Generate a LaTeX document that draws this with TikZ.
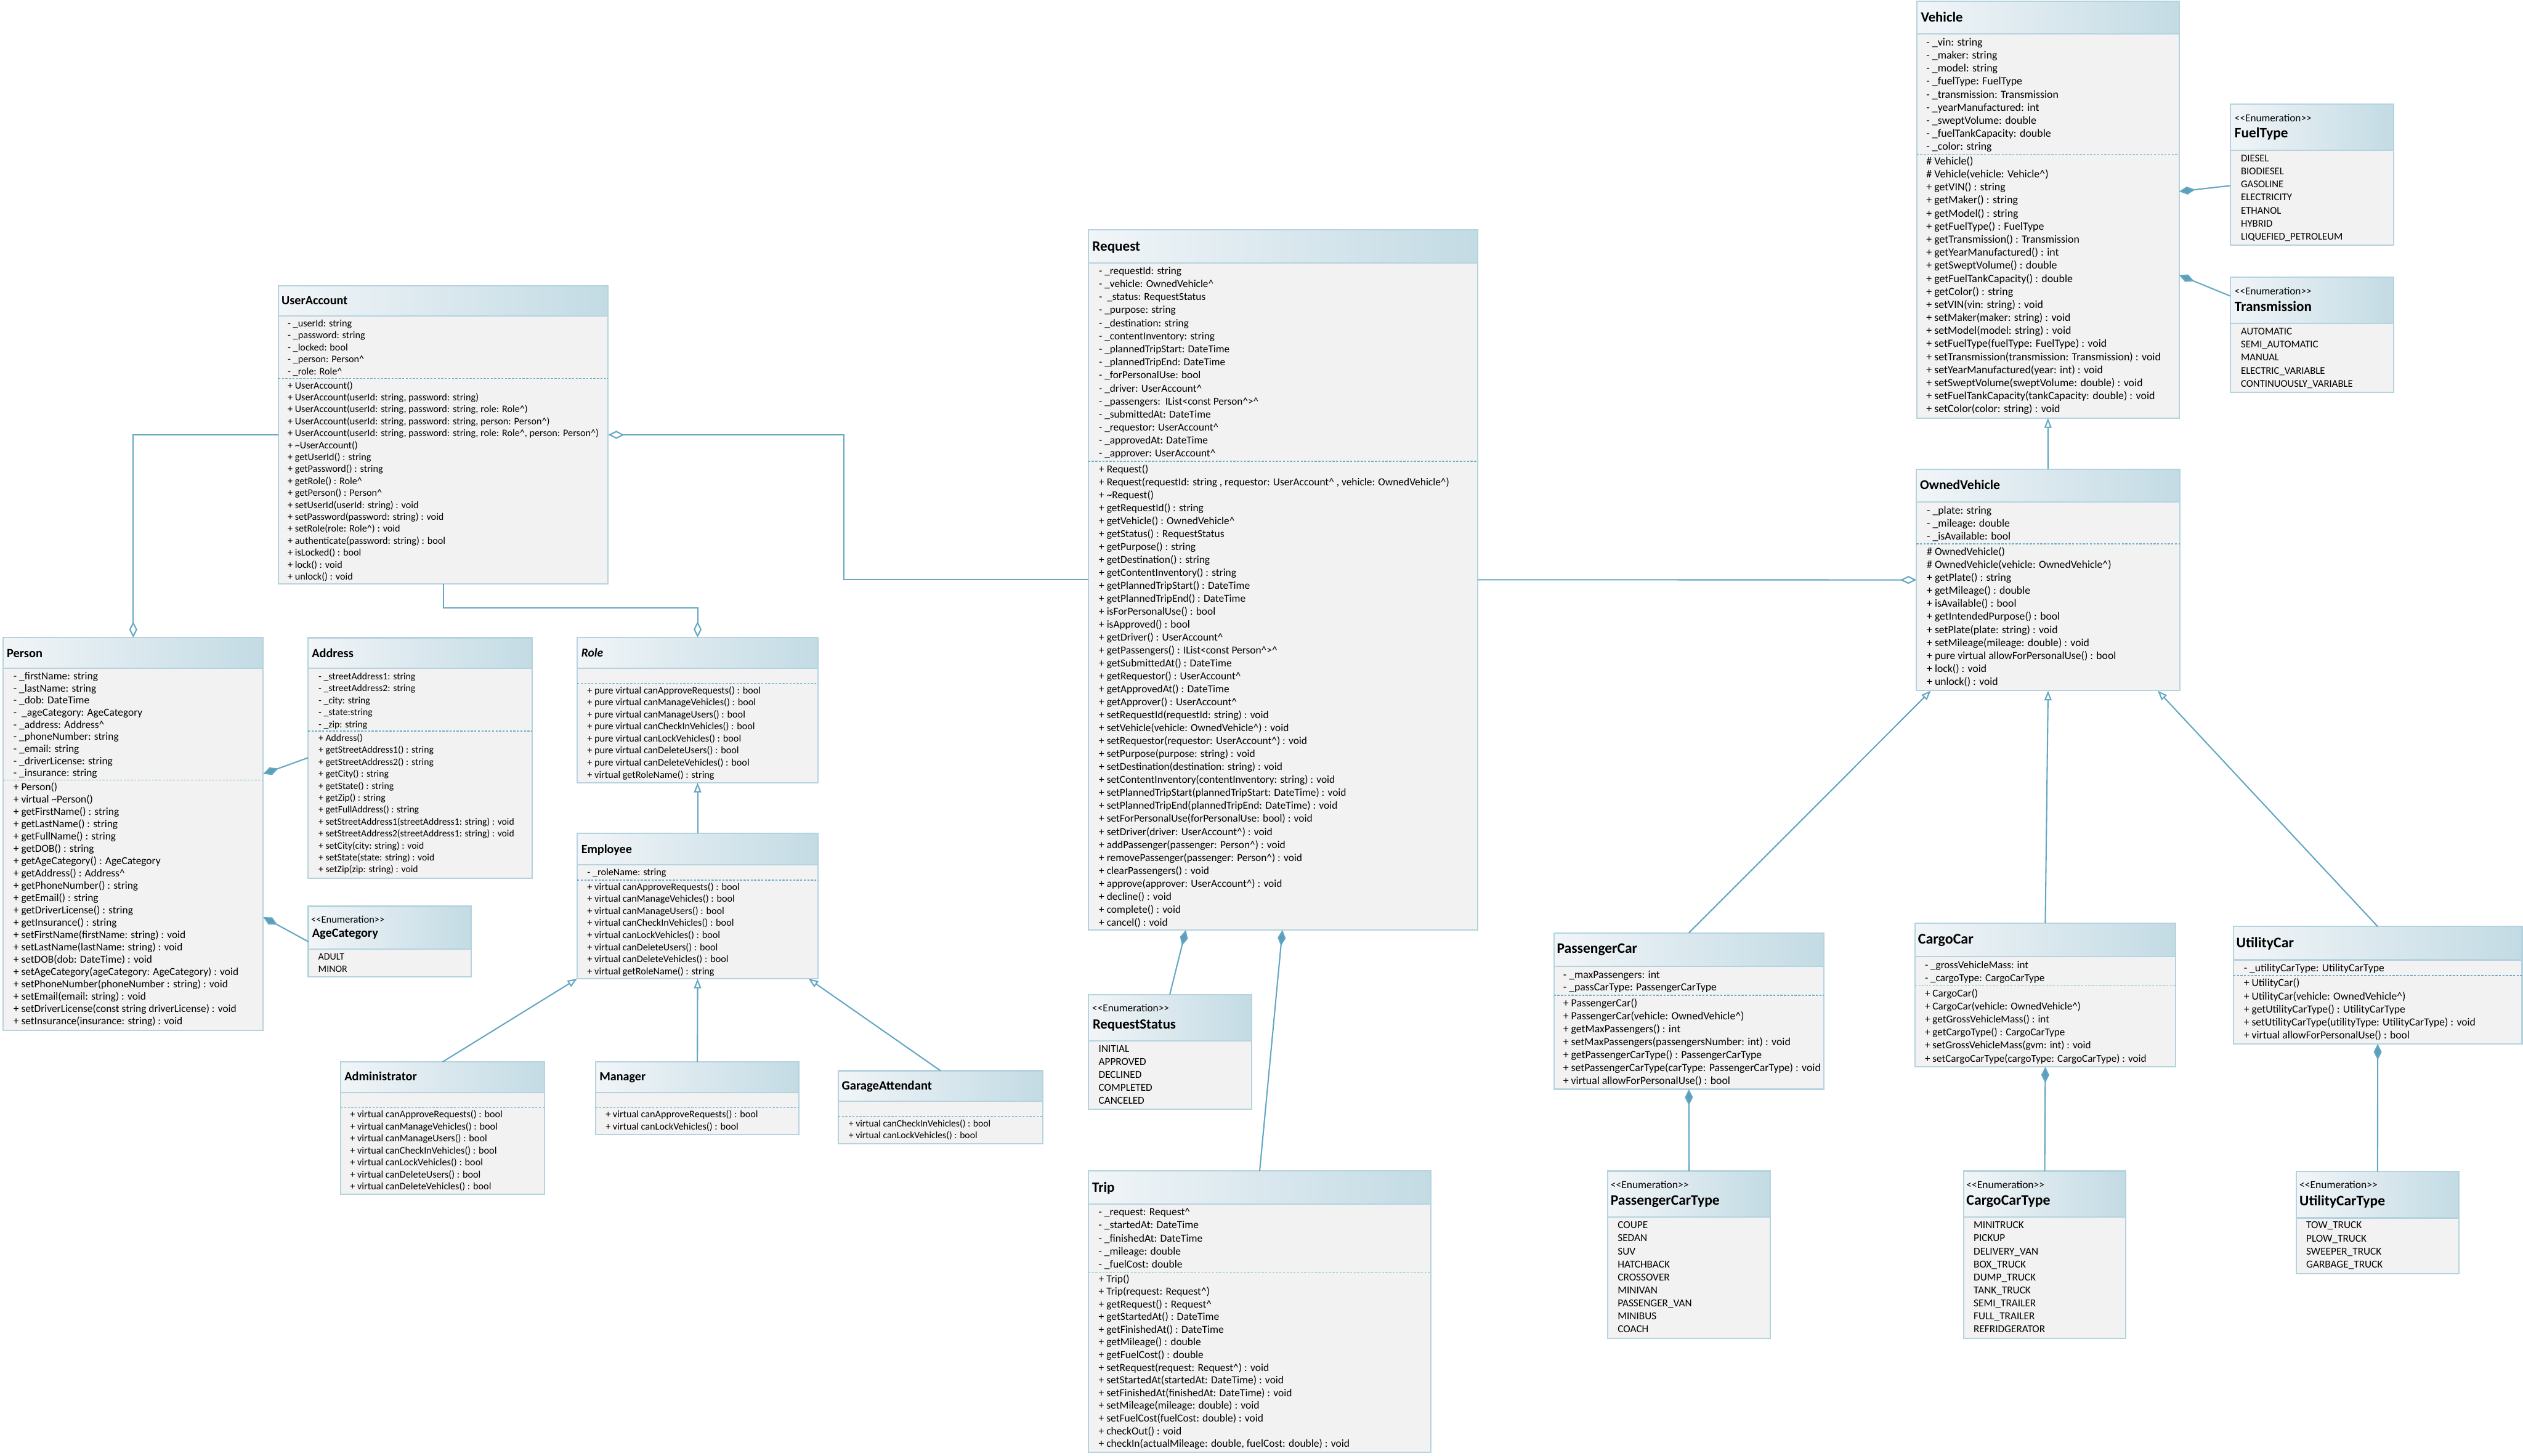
\documentclass[tikz,border=0pt]{standalone}
\usepackage{fontspec}
\setmainfont{Carlito}
\usetikzlibrary{arrows.meta}
\definecolor{hdrL}{HTML}{F1F5F8}
\definecolor{hdrR}{HTML}{C3DBE4}
\definecolor{bodyc}{HTML}{F2F2F2}
\definecolor{bordc}{HTML}{B5D3DF}
\definecolor{connc}{HTML}{64A7C3}
\definecolor{sepc}{HTML}{6AADC9}
\definecolor{diac}{HTML}{5AA0BA}
\tikzset{
 cls/.style={draw=bordc, line width=0.8pt, fill=bodyc, inner sep=0pt, outer sep=0pt, anchor=north west},
 txt/.style={anchor=base west, inner sep=0pt, outer sep=0pt, text=black},
 conn/.style={draw=connc, line width=0.8pt},
 sepl/.style={draw=sepc, line width=0.55pt, dash pattern=on 1.3pt off 0.9pt},
 compo/.style={conn, arrows={Diamond[fill=diac,length=10pt,width=5pt]-}},
 aggr/.style={conn, arrows={-Diamond[fill=white,length=10pt,width=5pt]}},
 inh/.style={conn, arrows={-Triangle[fill=white,length=6pt,width=4.5pt]}},
}
\newcommand\umlclass[6]{%
  \node[cls, minimum width={#4-#2}, minimum height={#5-#3}] (#1) at (#2,#3) {};
  \shade[left color=hdrL, right color=hdrR] (#1.north west) rectangle (#1.east |- 0,#6);
  \draw[bordc, line width=0.8pt] (#1.west |- 0,#6) -- (#1.east |- 0,#6);
  \draw[bordc, line width=0.8pt] (#1.north west) rectangle (#1.south east);
}
\newcommand\utitle[5]{\node[txt, font=\bfseries\fontsize{#4}{#4}\selectfont] (#1-title) at (#2,#3) {#5};}
\newcommand\ustereo[4]{\node[txt, font=\fontsize{#4}{#4}\selectfont] (#1-stereo) at (#2,#3) {<\kern0pt<Enumeration>\kern0pt>};}
\newcommand\usep[2]{\draw[sepl] (#1.west |- 0,#2) -- (#1.east |- 0,#2);}
\newcommand\tlines[6]{%
  \foreach \t [count=\i from 0] in {#6} {
    \node[txt, font=\fontsize{#5}{#5}\selectfont] (#1-\i) at (#2,{#3+\i*#4+0.3*#5}) {\t};
  }}
\begin{document}
\catcode`\_=12
\catcode`\^=12
\begin{tikzpicture}[x=1pt,y=-1pt]
\fill[white] (0,0) rectangle (1568,904.8);
\useasboundingbox (0,0) rectangle (1568,904.8);

% ---------- boxes ----------
\umlclass{ua}{173}{177.5}{378}{363}{196.5}
\umlclass{per}{2}{396.3}{163.6}{640.4}{415.4}
\umlclass{adr}{191.4}{396.4}{330.8}{545.8}{415.4}
\umlclass{role}{358.7}{396.2}{508.4}{486.5}{415.3}
\umlclass{emp}{358.7}{518}{508.4}{608.3}{537.3}
\umlclass{adm}{211.7}{660}{338.4}{742.4}{679.2}
\umlclass{mgr}{370.2}{660}{496.6}{705.3}{679.2}
\umlclass{ga}{521}{665.5}{648}{710.7}{684.6}
\umlclass{age}{191.6}{563.3}{292.9}{607.2}{590}
\umlclass{req}{676.3}{142.7}{918.3}{578}{163.3}
\umlclass{rs}{676.3}{618.1}{777.7}{689.6}{647}
\umlclass{trip}{676.3}{727.8}{889.4}{902.8}{748.3}
\umlclass{veh}{1191.2}{0.6}{1354.3}{259.9}{20.9}
\umlclass{ft}{1386.1}{64.8}{1487.7}{152.4}{93.3}
\umlclass{tr}{1386.1}{172.2}{1487.7}{244}{201.1}
\umlclass{ov}{1191}{291.6}{1354.7}{429.3}{312}
\umlclass{pc}{965.7}{579.8}{1133.5}{677}{600.6}
\umlclass{cc}{1190.1}{573.8}{1352.1}{663.1}{594.5}
\umlclass{uc}{1388}{575.9}{1567.4}{648.8}{596.6}
\umlclass{pct}{999.2}{727.9}{1100.3}{832}{756.6}
\umlclass{cct}{1220.4}{727.9}{1321.1}{832}{756.6}
\umlclass{uct}{1427}{728.2}{1528.2}{791.7}{757}

% ---------- UserAccount ----------
\utitle{ua}{175}{189.4}{7.75}{UserAccount}
\tlines{ua-a}{178.8}{201.2}{7.47}{6.2}{{- _userId: string},{- _password: string},{- _locked: bool},{- _person: Person^},{- _role: Role^}}
\usep{ua}{235.2}
\tlines{ua-m}{178.8}{239.7}{7.43}{6.2}{{+ UserAccount()},{+ UserAccount(userId: string, password: string)},{+ UserAccount(userId: string, password: string, role: Role^)},{+ UserAccount(userId: string, password: string, person: Person^)},{+ UserAccount(userId: string, password: string, role: Role^, person: Person^)},{+ \textasciitilde{}UserAccount()},{+ getUserId() : string},{+ getPassword() : string},{+ getRole() : Role^},{+ getPerson() : Person^},{+ setUserId(userId: string) : void},{+ setPassword(password: string) : void},{+ setRole(role: Role^) : void},{+ authenticate(password: string) : bool},{+ isLocked() : bool},{+ lock() : void},{+ unlock() : void}}

% ---------- Person ----------
\utitle{per}{4.3}{408.5}{7.8}{Person}
\tlines{per-a}{8.4}{420.5}{7.51}{6.65}{{- _firstName: string},{- _lastName: string},{- _dob: DateTime},{-\ \ _ageCategory: AgeCategory},{- _address: Address^},{- _phoneNumber: string},{- _email: string},{- _driverLicense: string},{- _insurance: string}}
\usep{per}{484.9}
\tlines{per-m}{8.4}{489.3}{7.66}{6.65}{{+ Person()},{+ virtual \textasciitilde{}Person()},{+ getFirstName() : string},{+ getLastName() : string},{+ getFullName() : string},{+ getDOB() : string},{+ getAgeCategory() : AgeCategory},{+ getAddress() : Address^},{+ getPhoneNumber() : string},{+ getEmail() : string},{+ getDriverLicense() : string},{+ getInsurance() : string},{+ setFirstName(firstName: string) : void},{+ setLastName(lastName: string) : void},{+ setDOB(dob: DateTime) : void},{+ setAgeCategory(ageCategory: AgeCategory) : void},{+ setPhoneNumber(phoneNumber : string) : void},{+ setEmail(email: string) : void},{+ setDriverLicense(const string driverLicense) : void},{+ setInsurance(insurance: string) : void}}

% ---------- Address ----------
\utitle{adr}{193.8}{408.5}{7.8}{Address}
\tlines{adr-a}{198}{420.6}{7.47}{6.0}{{- _streetAddress1: string},{- _streetAddress2: string},{- _city: string},{- _state:string},{- _zip: string}}
\usep{adr}{454.4}
\tlines{adr-m}{198}{458.9}{7.43}{6.0}{{+ Address()},{+ getStreetAddress1() : string},{+ getStreetAddress2() : string},{+ getCity() : string},{+ getState() : string},{+ getZip() : string},{+ getFullAddress() : string},{+ setStreetAddress1(streetAddress1: string) : void},{+ setStreetAddress2(streetAddress1: string) : void},{+ setCity(city: string) : void},{+ setState(state: string) : void},{+ setZip(zip: string) : void}}

% ---------- Role ----------
\utitle{role}{361.3}{408.4}{7.5}{\itshape Role}
\usep{role}{424.8}
\tlines{role-m}{365}{429.2}{7.49}{6.2}{{+ pure virtual canApproveRequests() : bool},{+ pure virtual canManageVehicles() : bool},{+ pure virtual canManageUsers() : bool},{+ pure virtual canCheckInVehicles() : bool},{+ pure virtual canLockVehicles() : bool},{+ pure virtual canDeleteUsers() : bool},{+ pure virtual canDeleteVehicles() : bool},{+ virtual getRoleName() : string}}

% ---------- Employee ----------
\utitle{emp}{361.3}{530.3}{7.7}{Employee}
\tlines{emp-a}{365}{542.4}{7.49}{6.2}{{- _roleName: string}}
\usep{emp}{547}
\tlines{emp-m}{365}{551.4}{7.49}{6.2}{{+ virtual canApproveRequests() : bool},{+ virtual canManageVehicles() : bool},{+ virtual canManageUsers() : bool},{+ virtual canCheckInVehicles() : bool},{+ virtual canLockVehicles() : bool},{+ virtual canDeleteUsers() : bool},{+ virtual canDeleteVehicles() : bool},{+ virtual getRoleName() : string}}

% ---------- Administrator / Manager / GarageAttendant ----------
\utitle{adm}{214.1}{671.8}{7.8}{Administrator}
\usep{adm}{688.4}
\tlines{adm-m}{217.6}{692.9}{7.45}{6.2}{{+ virtual canApproveRequests() : bool},{+ virtual canManageVehicles() : bool},{+ virtual canManageUsers() : bool},{+ virtual canCheckInVehicles() : bool},{+ virtual canLockVehicles() : bool},{+ virtual canDeleteUsers() : bool},{+ virtual canDeleteVehicles() : bool}}
\utitle{mgr}{372.6}{671.8}{7.7}{Manager}
\usep{mgr}{688.4}
\tlines{mgr-m}{376.4}{692.9}{7.4}{6.2}{{+ virtual canApproveRequests() : bool},{+ virtual canLockVehicles() : bool}}
\utitle{ga}{523.2}{677.2}{7.9}{GarageAttendant}
\usep{ga}{693.9}
\tlines{ga-m}{527.5}{698.5}{7.4}{6.0}{{+ virtual canCheckInVehicles() : bool},{+ virtual canLockVehicles() : bool}}

% ---------- AgeCategory ----------
\ustereo{age}{193.4}{573.6}{6.3}
\utitle{age}{194}{582.6}{7.8}{AgeCategory}
\tlines{age-i}{197.8}{594.7}{7.7}{6.1}{{ADULT},{MINOR}}

% ---------- Request ----------
\utitle{req}{678.9}{155.9}{8.85}{Request}
\tlines{req-a}{683}{168.5}{8.11}{6.6}{{- _requestId: string},{- _vehicle: OwnedVehicle^},{-\ \ _status: RequestStatus},{- _purpose: string},{- _destination: string},{- _contentInventory: string},{- _plannedTripStart: DateTime},{- _plannedTripEnd: DateTime},{- _forPersonalUse: bool},{- _driver: UserAccount^},{- _passengers:\ \ IList<const Person^>^},{- _submittedAt: DateTime},{- _requestor: UserAccount^},{- _approvedAt: DateTime},{- _approver: UserAccount^}}
\usep{req}{286.8}
\tlines{req-m}{683}{291.7}{8.05}{6.65}{{+ Request()},{+ Request(requestId: string , requestor: UserAccount^ , vehicle: OwnedVehicle^)},{+ \textasciitilde{}Request()},{+ getRequestId() : string},{+ getVehicle() : OwnedVehicle^},{+ getStatus() : RequestStatus},{+ getPurpose() : string},{+ getDestination() : string},{+ getContentInventory() : string},{+ getPlannedTripStart() : DateTime},{+ getPlannedTripEnd() : DateTime},{+ isForPersonalUse() : bool},{+ isApproved() : bool},{+ getDriver() : UserAccount^},{+ getPassengers() : IList<const Person^>^},{+ getSubmittedAt() : DateTime},{+ getRequestor() : UserAccount^},{+ getApprovedAt() : DateTime},{+ getApprover() : UserAccount^},{+ setRequestId(requestId: string) : void},{+ setVehicle(vehicle: OwnedVehicle^) : void},{+ setRequestor(requestor: UserAccount^) : void},{+ setPurpose(purpose: string) : void},{+ setDestination(destination: string) : void},{+ setContentInventory(contentInventory: string) : void},{+ setPlannedTripStart(plannedTripStart: DateTime) : void},{+ setPlannedTripEnd(plannedTripEnd: DateTime) : void},{+ setForPersonalUse(forPersonalUse: bool) : void},{+ setDriver(driver: UserAccount^) : void},{+ addPassenger(passenger: Person^) : void},{+ removePassenger(passenger: Person^) : void},{+ clearPassengers() : void},{+ approve(approver: UserAccount^) : void},{+ decline() : void},{+ complete() : void},{+ cancel() : void}}

% ---------- RequestStatus ----------
\ustereo{rs}{678.8}{628.9}{6.6}
\utitle{rs}{679.1}{639.5}{8.7}{RequestStatus}
\tlines{rs-i}{682.8}{652}{8.05}{6.6}{{INITIAL},{APPROVED},{DECLINED},{COMPLETED},{CANCELED}}

% ---------- Trip ----------
\utitle{trip}{678.8}{741}{8.8}{Trip}
\tlines{trip-a}{682.8}{753.5}{8.15}{6.7}{{- _request: Request^},{- _startedAt: DateTime},{- _finishedAt: DateTime},{- _mileage: double},{- _fuelCost: double}}
\usep{trip}{790.7}
\tlines{trip-m}{682.8}{795}{7.88}{6.7}{{+ Trip()},{+ Trip(request: Request^)},{+ getRequest() : Request^},{+ getStartedAt() : DateTime},{+ getFinishedAt() : DateTime},{+ getMileage() : double},{+ getFuelCost() : double},{+ setRequest(request: Request^) : void},{+ setStartedAt(startedAt: DateTime) : void},{+ setFinishedAt(finishedAt: DateTime) : void},{+ setMileage(mileage: double) : void},{+ setFuelCost(fuelCost: double) : void},{+ checkOut() : void},{+ checkIn(actualMileage: double, fuelCost: double) : void}}

% ---------- Vehicle ----------
\utitle{veh}{1193.8}{13.4}{8.7}{Vehicle}
\tlines{veh-a}{1197.2}{26.4}{8.11}{6.85}{{- _vin: string},{- _maker: string},{- _model: string},{- _fuelType: FuelType},{- _transmission: Transmission},{- _yearManufactured: int},{- _sweptVolume: double},{- _fuelTankCapacity: double},{- _color: string}}
\usep{veh}{95.8}
\tlines{veh-m}{1197.2}{100.3}{8.11}{6.85}{{\# Vehicle()},{\# Vehicle(vehicle: Vehicle^)},{+ getVIN() : string},{+ getMaker() : string},{+ getModel() : string},{+ getFuelType() : FuelType},{+ getTransmission() : Transmission},{+ getYearManufactured() : int},{+ getSweptVolume() : double},{+ getFuelTankCapacity() : double},{+ getColor() : string},{+ setVIN(vin: string) : void},{+ setMaker(maker: string) : void},{+ setModel(model: string) : void},{+ setFuelType(fuelType: FuelType) : void},{+ setTransmission(transmission: Transmission) : void},{+ setYearManufactured(year: int) : void},{+ setSweptVolume(sweptVolume: double) : void},{+ setFuelTankCapacity(tankCapacity: double) : void},{+ setColor(color: string) : void}}

% ---------- FuelType / Transmission ----------
\ustereo{ft}{1388.8}{75.6}{6.6}
\utitle{ft}{1388.8}{85.6}{8.9}{FuelType}
\tlines{ft-i}{1392.7}{98.6}{8.08}{6.4}{{DIESEL},{BIODIESEL},{GASOLINE},{ELECTRICITY},{ETHANOL},{HYBRID},{LIQUEFIED_PETROLEUM}}
\ustereo{tr}{1388.8}{183.3}{6.6}
\utitle{tr}{1388.8}{193.4}{8.9}{Transmission}
\tlines{tr-i}{1392.7}{206.1}{8.15}{6.4}{{AUTOMATIC},{SEMI_AUTOMATIC},{MANUAL},{ELECTRIC_VARIABLE},{CONTINUOUSLY_VARIABLE}}

% ---------- OwnedVehicle ----------
\utitle{ov}{1193.3}{304.2}{8.3}{OwnedVehicle}
\tlines{ov-a}{1197.5}{317.5}{8.03}{6.77}{{- _plate: string},{- _mileage: double},{- _isAvailable: bool}}
\usep{ov}{338.1}
\tlines{ov-m}{1197.5}{342.9}{8.11}{6.77}{{\# OwnedVehicle()},{\# OwnedVehicle(vehicle: OwnedVehicle^)},{+ getPlate() : string},{+ getMileage() : double},{+ isAvailable() : bool},{+ getIntendedPurpose() : bool},{+ setPlate(plate: string) : void},{+ setMileage(mileage: double) : void},{+ pure virtual allowForPersonalUse() : bool},{+ lock() : void},{+ unlock() : void}}

% ---------- PassengerCar / CargoCar / UtilityCar ----------
\utitle{pc}{967.6}{592.5}{9.0}{PassengerCar}
\tlines{pc-a}{971.5}{605.9}{7.9}{6.8}{{- _maxPassengers: int},{- _passCarType: PassengerCarType}}
\usep{pc}{618.6}
\tlines{pc-m}{971.5}{623.5}{8.07}{6.8}{{+ PassengerCar()},{+ PassengerCar(vehicle: OwnedVehicle^)},{+ getMaxPassengers() : int},{+ setMaxPassengers(passengersNumber: int) : void},{+ getPassengerCarType() : PassengerCarType},{+ setPassengerCarType(carType: PassengerCarType) : void},{+ virtual allowForPersonalUse() : bool}}
\utitle{cc}{1192}{586.7}{9.2}{CargoCar}
\tlines{cc-a}{1196.3}{599.9}{8.1}{6.55}{{- _grossVehicleMass: int},{- _cargoType: CargoCarType}}
\usep{cc}{612.4}
\tlines{cc-m}{1196.3}{617.5}{8.1}{6.55}{{+ CargoCar()},{+ CargoCar(vehicle: OwnedVehicle^)},{+ getGrossVehicleMass() : int},{+ getCargoType() : CargoCarType},{+ setGrossVehicleMass(gvm: int) : void},{+ setCargoCarType(cargoType: CargoCarType) : void}}
\utitle{uc}{1389.8}{588.8}{9.1}{UtilityCar}
\tlines{uc-a}{1394.5}{602}{8}{6.75}{{- _utilityCarType: UtilityCarType}}
\usep{uc}{606.4}
\tlines{uc-m}{1394.5}{611.2}{8.1}{6.75}{{+ UtilityCar()},{+ UtilityCar(vehicle: OwnedVehicle^)},{+ getUtilityCarType() : UtilityCarType},{+ setUtilityCarType(utilityType: UtilityCarType) : void},{+ virtual allowForPersonalUse() : bool}}

% ---------- car type enums ----------
\ustereo{pct}{1001}{738.5}{6.7}
\utitle{pct}{1001}{748.9}{9.0}{PassengerCarType}
\tlines{pct-i}{1005.4}{761.6}{8.1}{6.6}{{COUPE},{SEDAN},{SUV},{HATCHBACK},{CROSSOVER},{MINIVAN},{PASSENGER_VAN},{MINIBUS},{COACH}}
\ustereo{cct}{1222.1}{738.5}{6.7}
\utitle{cct}{1222.1}{748.9}{9.1}{CargoCarType}
\tlines{cct-i}{1226.6}{761.6}{8.1}{6.6}{{MINITRUCK},{PICKUP},{DELIVERY_VAN},{BOX_TRUCK},{DUMP_TRUCK},{TANK_TRUCK},{SEMI_TRAILER},{FULL_TRAILER},{REFRIDGERATOR}}
\ustereo{uct}{1429.1}{738.8}{6.7}
\utitle{uct}{1429.1}{749.2}{9.0}{UtilityCarType}
\tlines{uct-i}{1433.3}{761.7}{8.1}{6.6}{{TOW_TRUCK},{PLOW_TRUCK},{SWEEPER_TRUCK},{GARBAGE_TRUCK}}

% ---------- connectors ----------
\draw[aggr] (ua.west) -| (per.north);
\draw[aggr] (ua.south) -- ++(0,15) -| (role.north);
\draw[aggr] (req.west) -- ++(-152,0) |- (ua.east);
\draw[aggr] (req.east) -- (ov.west);
\draw[compo] (per.east |- 0,481) -- (adr.west |- 0,471);
\draw[compo] (per.east |- 0,570) -- (age.west);
\draw[inh] (emp.north) -- (role.south);
\draw[inh] (adm.north) -- (emp.south west);
\draw[inh] (mgr.north) -- (emp.south);
\draw[inh] (ga.north) -- (502.5,0 |- emp.south);
\draw[inh] (ov.north) -- (veh.south);
\draw[compo] (veh.east |- 0,119) -- (ft.west |- 0,115.4);
\draw[compo] (veh.east |- 0,171) -- (tr.west |- 0,184);
\draw[inh] (pc.north) -- (1200,0 |- ov.south);
\draw[inh] (cc.north) -- (ov.south);
\draw[inh] (uc.north) -- (1341,0 |- ov.south);
\draw[compo] (pc.south) -- (pct.north);
\draw[compo] (cc.south) -- (cct.north);
\draw[compo] (uc.south) -- (uct.north);
\draw[compo] (737,0 |- req.south) -- (rs.north);
\draw[compo] (797,0 |- req.south) -- (trip.north);
\end{tikzpicture}
\end{document}
